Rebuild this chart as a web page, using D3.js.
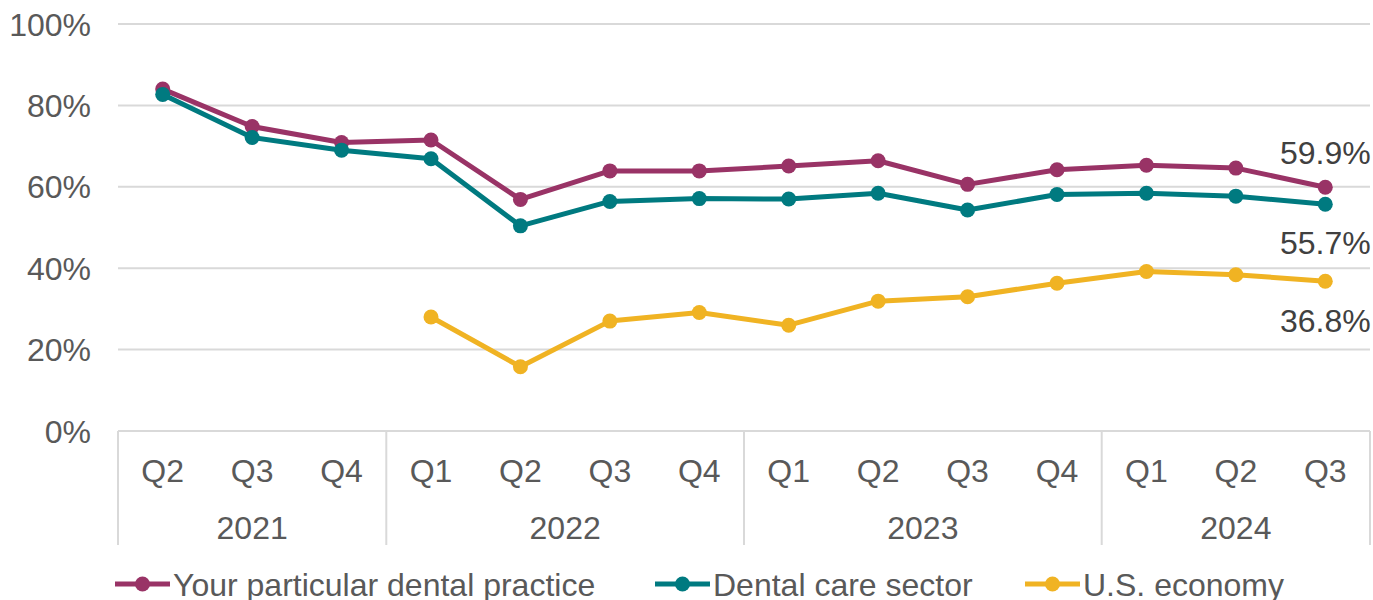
<!DOCTYPE html>
<html>
<head>
<meta charset="utf-8">
<script src="https://cdn.jsdelivr.net/npm/d3@7"></script>
<style>
  html, body { margin: 0; padding: 0; background: #fff; }
  svg { display: block; font-family: "Liberation Sans", Arial, sans-serif; }
</style>
</head>
<body>
<svg id="chart" width="1373" height="600"></svg>
<script>
const quarters = ["Q2","Q3","Q4","Q1","Q2","Q3","Q4","Q1","Q2","Q3","Q4","Q1","Q2","Q3"];
const years = [
  { label: "2021", start: 0, count: 3 },
  { label: "2022", start: 3, count: 4 },
  { label: "2023", start: 7, count: 4 },
  { label: "2024", start: 11, count: 3 }
];
const practice = [84.0, 74.8, 70.9, 71.5, 56.9, 63.9, 63.9, 65.1, 66.4, 60.6, 64.2, 65.3, 64.6, 59.9];
const sector   = [82.7, 72.1, 69.0, 66.9, 50.4, 56.4, 57.1, 57.0, 58.4, 54.3, 58.1, 58.4, 57.7, 55.7];
const economy  = [null, null, null, 28.0, 15.8, 27.0, 29.1, 26.0, 31.9, 33.0, 36.3, 39.2, 38.4, 36.8];
const yTicks = [0, 20, 40, 60, 80, 100];
const seriesNames = ["Your particular dental practice", "Dental care sector", "U.S. economy"];
const seriesColors = ["#993366", "#007A80", "#F0B323"];
const endLabels = ["59.9%", "55.7%", "36.8%"];

(function () {
const svg = d3.select("#chart");
const mLeft = 118, mRight = 1370, mTop = 24, mBottom = 431;
const textColor = "#595959";
const gridColor = "#D9D9D9";
const fs = 32;

const x = d3.scaleBand().domain(d3.range(quarters.length)).range([mLeft, mRight]).padding(0);
const y = d3.scaleLinear().domain([0, 100]).range([mBottom, mTop]);
const cx = i => x(i) + x.bandwidth() / 2;

// gridlines
svg.append("g").selectAll("line").data(yTicks).join("line")
  .attr("x1", mLeft).attr("x2", mRight)
  .attr("y1", d => y(d)).attr("y2", d => y(d))
  .attr("stroke", gridColor).attr("stroke-width", 2);

// y tick labels
svg.append("g").selectAll("text").data(yTicks).join("text")
  .attr("x", 91).attr("y", d => y(d)).attr("dy", "0.36em")
  .attr("text-anchor", "end").attr("fill", textColor)
  .attr("font-size", fs).text(d => d + "%");

// category axis separators
const sepIdx = [0, 3, 7, 11, 14];
svg.append("g").selectAll("line").data(sepIdx).join("line")
  .attr("x1", d => d < quarters.length ? x(d) : mRight)
  .attr("x2", d => d < quarters.length ? x(d) : mRight)
  .attr("y1", mBottom).attr("y2", 545)
  .attr("stroke", gridColor).attr("stroke-width", 2);

// quarter labels
svg.append("g").selectAll("text").data(quarters).join("text")
  .attr("x", (d, i) => cx(i)).attr("y", 470).attr("dy", "0.36em")
  .attr("text-anchor", "middle").attr("fill", textColor)
  .attr("font-size", fs).text(d => d);

// year labels
svg.append("g").selectAll("text").data(years).join("text")
  .attr("x", d => (x(d.start) + (d.start + d.count < quarters.length ? x(d.start + d.count) : mRight)) / 2)
  .attr("y", 527).attr("dy", "0.36em")
  .attr("text-anchor", "middle").attr("fill", textColor)
  .attr("font-size", fs).text(d => d.label);

// series
const allSeries = [practice, sector, economy];
const line = d3.line().defined(d => d != null).x((d, i) => cx(i)).y(d => y(d));
allSeries.forEach((s, k) => {
  const g = svg.append("g");
  g.append("path").datum(s).attr("d", line)
    .attr("fill", "none").attr("stroke", seriesColors[k])
    .attr("stroke-width", 5).attr("stroke-linejoin", "round");
  g.selectAll("circle").data(s.map((v, i) => ({ v, i })).filter(d => d.v != null)).join("circle")
    .attr("cx", d => cx(d.i)).attr("cy", d => y(d.v)).attr("r", 7.5)
    .attr("fill", seriesColors[k]);
});

// end labels
const lastI = quarters.length - 1;
const labelOffsets = [-35, 38, 39];
allSeries.forEach((s, k) => {
  svg.append("text")
    .attr("x", cx(lastI)).attr("y", y(s[lastI]) + labelOffsets[k]).attr("dy", "0.36em")
    .attr("text-anchor", "middle").attr("fill", "#404040")
    .attr("font-size", fs).text(endLabels[k]);
});

// legend
const legendX = [115, 655, 1025];
const legendY = 584;
seriesNames.forEach((name, k) => {
  const g = svg.append("g").attr("transform", `translate(${legendX[k]},${legendY})`);
  g.append("line").attr("x1", 0).attr("x2", 55).attr("y1", 0).attr("y2", 0)
    .attr("stroke", seriesColors[k]).attr("stroke-width", 5);
  g.append("circle").attr("cx", 27.5).attr("cy", 0).attr("r", 7.5).attr("fill", seriesColors[k]);
  g.append("text").attr("x", 58).attr("y", 0).attr("dy", "0.36em")
    .attr("fill", textColor).attr("font-size", fs).text(name);
});
})();
</script>
</body>
</html>
